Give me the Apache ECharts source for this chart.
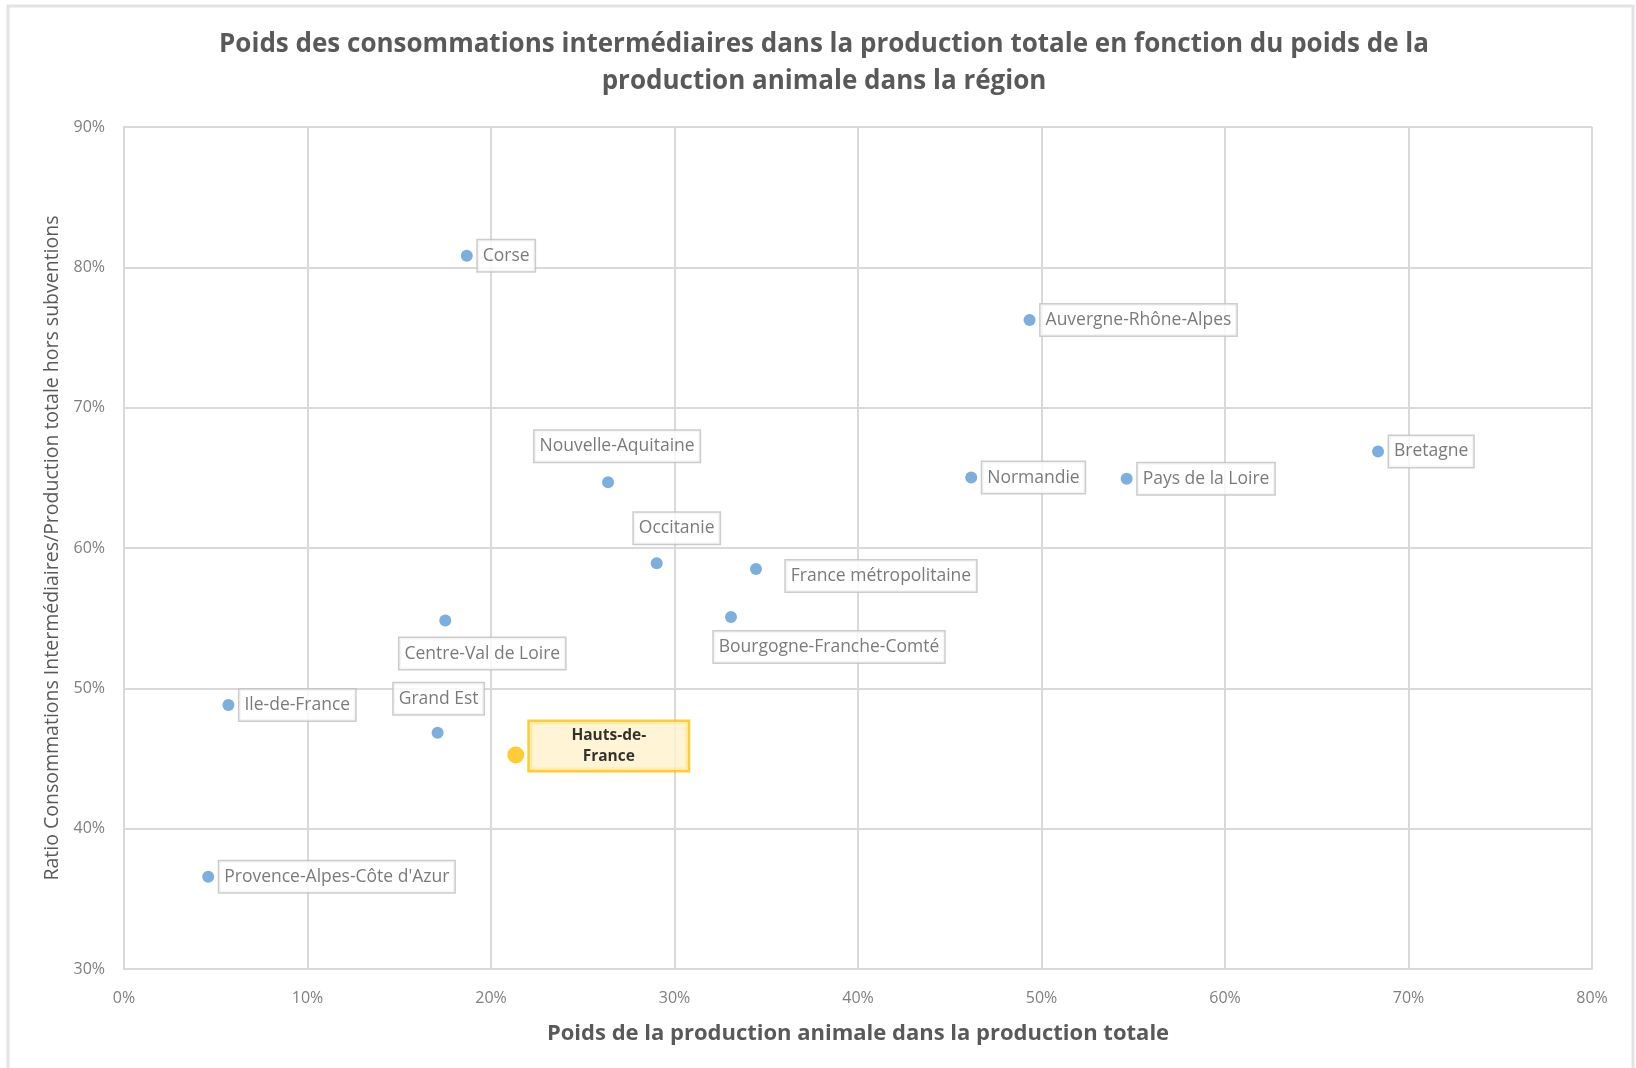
<!DOCTYPE html>
<html>
<head>
<meta charset="utf-8">
<script src="https://cdn.jsdelivr.net/npm/echarts@6/dist/echarts.min.js"></script>
<style>
html,body{margin:0;padding:0;background:#fff;}
#chart{width:1636px;height:1068px;}
</style>
</head>
<body>
<div id="chart"></div>
<script>
// ---- data ----
const regions = ["Corse","Auvergne-Rhône-Alpes","Bretagne","Normandie","Pays de la Loire","Nouvelle-Aquitaine","Occitanie","France métropolitaine","Bourgogne-Franche-Comté","Centre-Val de Loire","Ile-de-France","Grand Est","Hauts-de-France","Provence-Alpes-Côte d'Azur"];
const animalShare = [18.68, 49.35, 68.34, 46.17, 54.64, 26.38, 29.03, 34.44, 33.08, 17.51, 5.69, 17.09, 21.35, 4.59];
const ciRatio = [80.83, 76.25, 66.88, 65.02, 64.94, 64.68, 58.91, 58.50, 55.08, 54.83, 48.81, 46.84, 45.25, 36.58];
const highlighted = "Hauts-de-France";
const xTicks = {min: 0, max: 80, interval: 10};
const yTicks = {min: 30, max: 90, interval: 10};

// ---- label placement (layout only) ----
const labelPlacement = {
  "Corse": {pos: "right"},
  "Auvergne-Rhône-Alpes": {pos: "right"},
  "Bretagne": {pos: "right"},
  "Normandie": {pos: "right"},
  "Pays de la Loire": {pos: "right"},
  "Ile-de-France": {pos: "right"},
  "Provence-Alpes-Côte d'Azur": {pos: "right"},
  "Nouvelle-Aquitaine": {pos: "inside", offset: [9, -36]},
  "Occitanie": {pos: "inside", offset: [20, -35]},
  "France métropolitaine": {pos: "inside", offset: [125, 7]},
  "Bourgogne-Franche-Comté": {pos: "inside", offset: [98, 30]},
  "Centre-Val de Loire": {pos: "inside", offset: [37, 33]},
  "Grand Est": {pos: "inside", offset: [1, -34]},
  "Hauts-de-France": {pos: "inside", offset: [93, -9]}
};

const FONT = "'Open Sans', 'Liberation Sans', sans-serif";
const GREY = "#595959";

const baseLabel = {
  show: true,
  formatter: '{b}',
  color: GREY,
  fontFamily: FONT,
  fontSize: 17.5,
  lineHeight: 22,
  backgroundColor: '#fff',
  borderColor: '#bfbfbf',
  borderWidth: 1.5,
  padding: [5, 5, 4, 5]
};

const points = regions.map((name, i) => {
  const lp = labelPlacement[name];
  const label = Object.assign({}, baseLabel);
  if (lp.pos === 'right') { label.position = 'right'; label.distance = 5; }
  else { label.position = 'inside'; label.offset = lp.offset; }
  const item = { name: name, value: [animalShare[i], ciRatio[i]], label: label };
  if (name === highlighted) {
    item.symbolSize = 17;
    item.itemStyle = { color: '#ffc000' };
    item.label = Object.assign(label, {
      formatter: 'Hauts-de-\nFrance',
      color: '#000',
      fontWeight: 'bold',
      fontSize: 15.5,
      lineHeight: 21,
      width: 150,
      align: 'center',
      backgroundColor: '#fff2cc',
      borderColor: '#ffc000',
      borderWidth: 2.5,
      padding: [3, 4, 3, 4]
    });
  }
  return item;
});

const chart = echarts.init(document.getElementById('chart'), null, {renderer: 'canvas'});
chart.setOption({
  backgroundColor: '#fff',
  animation: false,
  graphic: [{
    type: 'rect', z: -10, silent: true,
    shape: {x: 8, y: 6, width: 1625, height: 1100},
    style: {fill: 'none', stroke: '#e3e3e3', lineWidth: 3}
  }],
  title: {
    text: 'Poids des consommations intermédiaires dans la production totale en fonction du poids de la\nproduction animale dans la région',
    left: 819,
    top: 21,
    textAlign: 'center',
    textStyle: {fontFamily: FONT, fontSize: 26, fontWeight: 'bold', color: GREY, lineHeight: 37}
  },
  grid: {left: 124, right: 44, top: 127, bottom: 99},
  xAxis: {
    type: 'value',
    min: xTicks.min, max: xTicks.max, interval: xTicks.interval,
    name: 'Poids de la production animale dans la production totale',
    nameLocation: 'middle',
    nameGap: 54,
    nameTextStyle: {fontFamily: FONT, fontSize: 22, fontWeight: 'bold', color: GREY},
    axisLine: {show: true, lineStyle: {color: '#d9d9d9', width: 2}},
    axisTick: {show: false},
    axisLabel: {formatter: '{value}%', fontFamily: FONT, fontSize: 16, color: '#7f7f7f', margin: 21},
    splitLine: {show: true, lineStyle: {color: '#d9d9d9', width: 2}}
  },
  yAxis: {
    type: 'value',
    min: yTicks.min, max: yTicks.max, interval: yTicks.interval,
    name: 'Ratio Consommations Intermédiaires/Production totale hors subventions',
    nameLocation: 'middle',
    nameGap: 62,
    nameTextStyle: {fontFamily: FONT, fontSize: 19.5, color: GREY},
    axisLine: {show: true, lineStyle: {color: '#d9d9d9', width: 2}},
    axisTick: {show: false},
    axisLabel: {formatter: '{value}%', fontFamily: FONT, fontSize: 16, color: '#7f7f7f', margin: 19},
    splitLine: {show: true, lineStyle: {color: '#d9d9d9', width: 2}}
  },
  series: [{
    type: 'scatter',
    symbol: 'circle',
    symbolSize: 12,
    itemStyle: {color: '#5b9bd5'},
    data: points
  }]
});
</script>
</body>
</html>
